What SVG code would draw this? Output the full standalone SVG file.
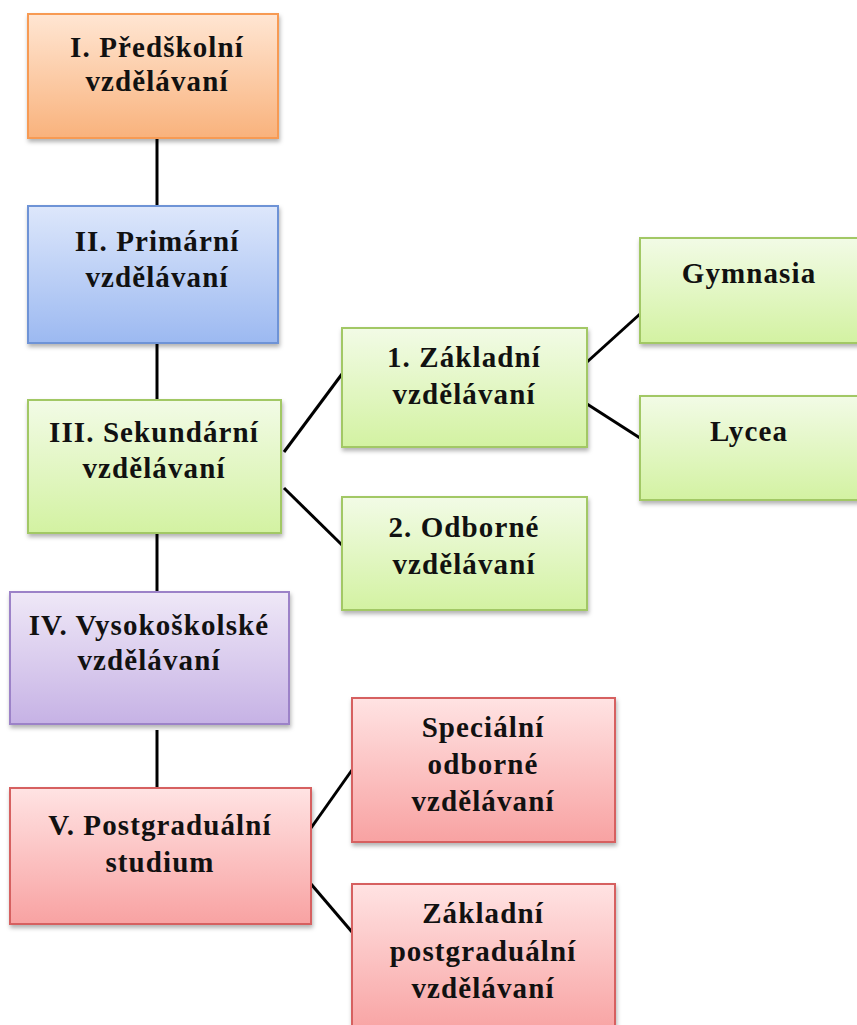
<svg xmlns="http://www.w3.org/2000/svg" width="857" height="1025" viewBox="0 0 857 1025">
<defs>
<linearGradient id="gO" x1="0" y1="0" x2="0" y2="1"><stop offset="0" stop-color="#FFE6D3"/><stop offset="1" stop-color="#F9B27C"/></linearGradient>
<linearGradient id="gB" x1="0" y1="0" x2="0" y2="1"><stop offset="0" stop-color="#DDE7FB"/><stop offset="1" stop-color="#9CB9F1"/></linearGradient>
<linearGradient id="gG" x1="0" y1="0" x2="0" y2="1"><stop offset="0" stop-color="#F2FBE6"/><stop offset="1" stop-color="#D3F2A2"/></linearGradient>
<linearGradient id="gP" x1="0" y1="0" x2="0" y2="1"><stop offset="0" stop-color="#EFE8F7"/><stop offset="1" stop-color="#C6B2E5"/></linearGradient>
<linearGradient id="gR" x1="0" y1="0" x2="0" y2="1"><stop offset="0" stop-color="#FFE3E3"/><stop offset="1" stop-color="#F8A2A2"/></linearGradient>
<filter id="sh" x="-10%" y="-10%" width="125%" height="130%"><feDropShadow dx="1" dy="3" stdDeviation="2" flood-color="#000" flood-opacity="0.3"/></filter>
</defs>
<style>
.o{fill:url(#gO);stroke:#F79A52;stroke-width:2;filter:url(#sh)}
.b{fill:url(#gB);stroke:#6E93D6;stroke-width:2;filter:url(#sh)}
.g{fill:url(#gG);stroke:#A2C865;stroke-width:2;filter:url(#sh)}
.p{fill:url(#gP);stroke:#9C82C8;stroke-width:2;filter:url(#sh)}
.r{fill:url(#gR);stroke:#D66060;stroke-width:2;filter:url(#sh)}
text{font-family:"Liberation Serif","Times New Roman",serif;font-weight:bold;font-size:29px;fill:#111;text-anchor:middle;letter-spacing:1.1px}
.c line{stroke:#000;stroke-width:3}
</style>
<g class="c" id="connectors">
<line x1="157" y1="138" x2="157" y2="206"/>
<line x1="157" y1="343" x2="157" y2="400"/>
<line x1="157" y1="533" x2="157" y2="592"/>
<line x1="157" y1="730" x2="157" y2="788"/>
<line x1="284" y1="452" x2="342" y2="374"/>
<line x1="284" y1="488" x2="342" y2="545"/>
<line x1="587" y1="362" x2="640" y2="314"/>
<line x1="587" y1="404" x2="640" y2="438"/>
<line x1="311" y1="828" x2="352" y2="770"/>
<line x1="311" y1="884" x2="352" y2="932"/>
</g>
<g id="n1"><rect class="o" x="28" y="14" width="250" height="124"/><text x="157" y="57">I. Předškolní</text><text x="157" y="91">vzdělávaní</text></g>
<g id="n2"><rect class="b" x="28" y="206" width="250" height="137"/><text x="157" y="251">II. Primární</text><text x="157" y="287">vzdělávaní</text></g>
<g id="n3"><rect class="g" x="28" y="400" width="253" height="133"/><text x="154" y="442">III. Sekundární</text><text x="154" y="478">vzdělávaní</text></g>
<g id="n31"><rect class="g" x="342" y="328" width="245" height="119"/><text x="464" y="367">1. Základní</text><text x="464" y="404">vzdělávaní</text></g>
<g id="n311"><rect class="g" x="640" y="238" width="220" height="105"/><text x="749" y="283">Gymnasia</text></g>
<g id="n312"><rect class="g" x="640" y="396" width="220" height="104"/><text x="749" y="441">Lycea</text></g>
<g id="n32"><rect class="g" x="342" y="497" width="245" height="113"/><text x="464" y="537">2. Odborné</text><text x="464" y="574">vzdělávaní</text></g>
<g id="n4"><rect class="p" x="10" y="592" width="279" height="132"/><text x="149" y="635">IV. Vysokoškolské</text><text x="149" y="670">vzdělávaní</text></g>
<g id="n5"><rect class="r" x="10" y="788" width="301" height="136"/><text x="160" y="835">V. Postgraduální</text><text x="160" y="872">studium</text></g>
<g id="n51"><rect class="r" x="352" y="698" width="263" height="144"/><text x="483" y="737">Speciální</text><text x="483" y="774">odborné</text><text x="483" y="811">vzdělávaní</text></g>
<g id="n52"><rect class="r" x="352" y="884" width="263" height="150"/><text x="483" y="923">Základní</text><text x="483" y="961">postgraduální</text><text x="483" y="998">vzdělávaní</text></g>
</svg>
